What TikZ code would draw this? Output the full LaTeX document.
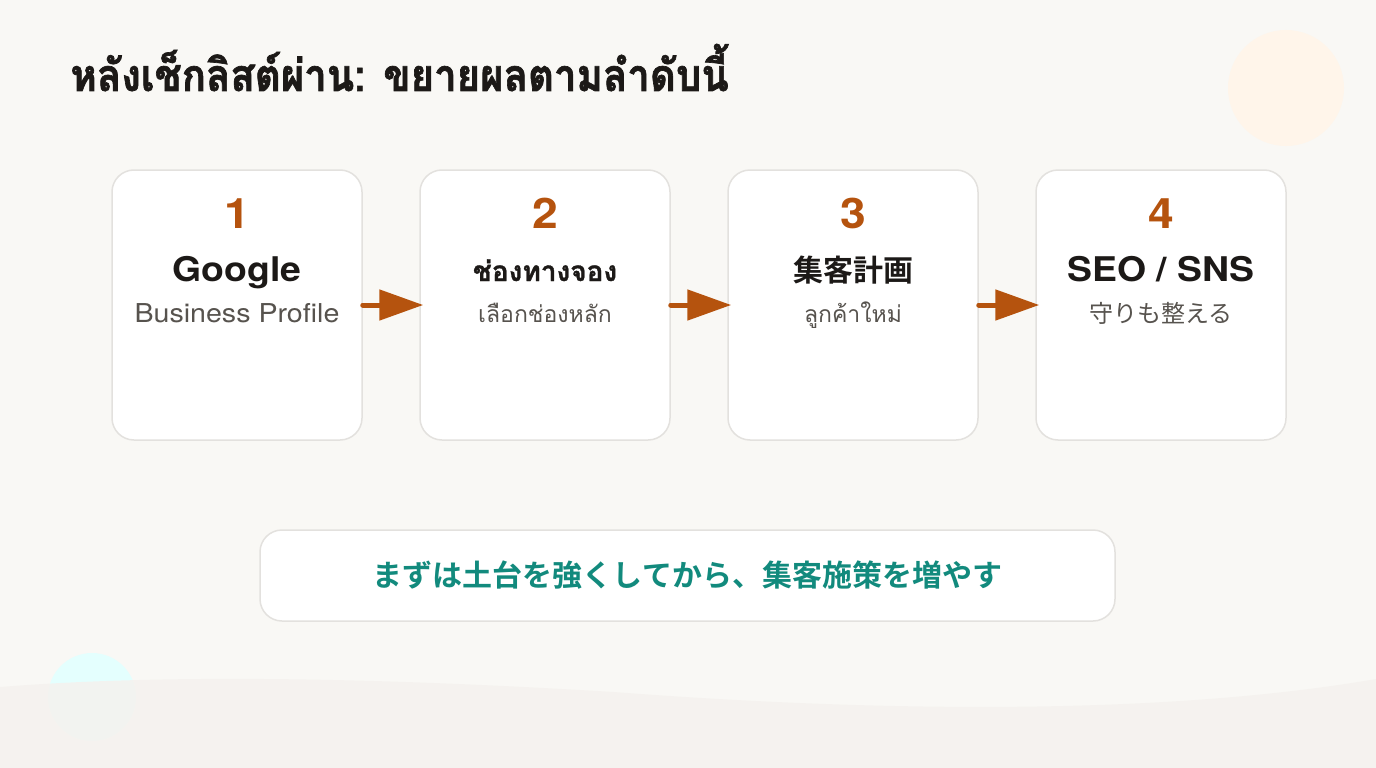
\documentclass[tikz,border=0pt]{standalone}
\usepackage{fontspec}
\usepackage{tikz}
\usetikzlibrary{arrows.meta,calc,positioning}
\setmainfont{TeX Gyre Heros}
\newfontfamily\widefont[FakeStretch=1.1]{TeX Gyre Heros}
\newfontfamily\thaifont[Script=Thai]{Loma}
\newfontfamily\thaihead[Script=Thai,FakeBold=1]{Loma}
\newfontfamily\thaititle[Script=Thai,FakeStretch=0.9,FakeBold=1.5]{Loma}
\newfontfamily\jpfont[BoldFont={Noto Sans CJK JP Bold}]{Noto Sans CJK JP}
\definecolor{pagebg}{HTML}{F9F8F5}
\definecolor{wavebg}{HTML}{F5F2EE}
\definecolor{cardline}{HTML}{E3E1DE}
\definecolor{stepor}{HTML}{B5530E}
\definecolor{ink}{HTML}{1C1917}
\definecolor{subgray}{HTML}{57534E}
\definecolor{tealtxt}{HTML}{128A7D}
\definecolor{peach}{HTML}{FFF5EA}
\definecolor{icecyan}{HTML}{E4FFFE}

\begin{document}
\begin{tikzpicture}[x=1pt, y=-1pt,
    card/.style={draw=cardline, fill=white, line width=1.5pt, rounded corners=22pt, minimum width=250pt, minimum height=270pt},
    num/.style={anchor=base, text=stepor, font=\widefont\fontsize{42}{42}\selectfont\bfseries},
    head/.style={anchor=base, text=ink, font=\widefont\fontsize{34}{34}\selectfont\bfseries},
    sub/.style={anchor=base, text=subgray, font=\widefont\fontsize{26}{26}\selectfont},
    flow/.style={draw=stepor, line width=5pt, line cap=round, -{Triangle[length=44pt,width=30pt]}, shorten >=-4pt}
  ]
  % background, blobs and wave
  \fill[pagebg] (0,0) rectangle (1376,768);
  \useasboundingbox (0,0) rectangle (1376,768);
  \fill[peach] (1286,88) circle (58);
  \fill[icecyan] (92,697) circle (44);
  \fill[wavebg, fill opacity=0.85] (0,687) .. controls (150,675) and (350,676) .. (614,692)
    .. controls (850,710) and (1150,718) .. (1376,679) -- (1376,768) -- (0,768) -- cycle;

  % title
  \node[anchor=base west, text=ink, font=\thaititle\fontsize{44.5}{44.5}\selectfont\bfseries] (title) at (67,91)
    {หลังเช็กลิสต์ผ่าน: ขยายผลตามลำดับนี้};

  % the four steps
  \node[card] (card1) at (237,305) {};
  \node[card] (card2) at (545,305) {};
  \node[card] (card3) at (853,305) {};
  \node[card] (card4) at (1161,305) {};

  \node[num] (num1) at (237,228) {1};
  \node[head] (head1) at (237,281) {Google};
  \node[sub] (sub1) at (237,322) {Business Profile};

  \node[num] (num2) at (545,228) {2};
  \node[head, font=\thaihead\fontsize{28}{28}\selectfont\bfseries] (head2) at (545,281) {ช่องทางจอง};
  \node[sub, font=\thaifont\fontsize{23}{23}\selectfont] (sub2) at (545,322) {เลือกช่องหลัก};

  \node[num] (num3) at (853,228) {3};
  \node[head, font=\jpfont\fontsize{30}{30}\selectfont\bfseries] (head3) at (853,281) {集客計画};
  \node[sub, font=\thaifont\fontsize{23}{23}\selectfont] (sub3) at (853,322) {ลูกค้าใหม่};

  \node[num] (num4) at (1161,228) {4};
  \node[head] (head4) at (1161,281) {SEO / SNS};
  \node[sub, font=\jpfont\fontsize{24}{24}\selectfont] (sub4) at (1161,322) {守りも整える};

  \draw[flow] (card1.east) -- (card2.west);
  \draw[flow] (card2.east) -- (card3.west);
  \draw[flow] (card3.east) -- (card4.west);

  % bottom message
  \node[draw=cardline, fill=white, line width=1.5pt, rounded corners=22pt, minimum width=855pt, minimum height=91pt,
    text=tealtxt, font=\jpfont\fontsize{30}{30}\selectfont\bfseries] (msg) at (687.5,575.5)
    {まずは土台を強くしてから、集客施策を増やす};
\end{tikzpicture}
\end{document}
